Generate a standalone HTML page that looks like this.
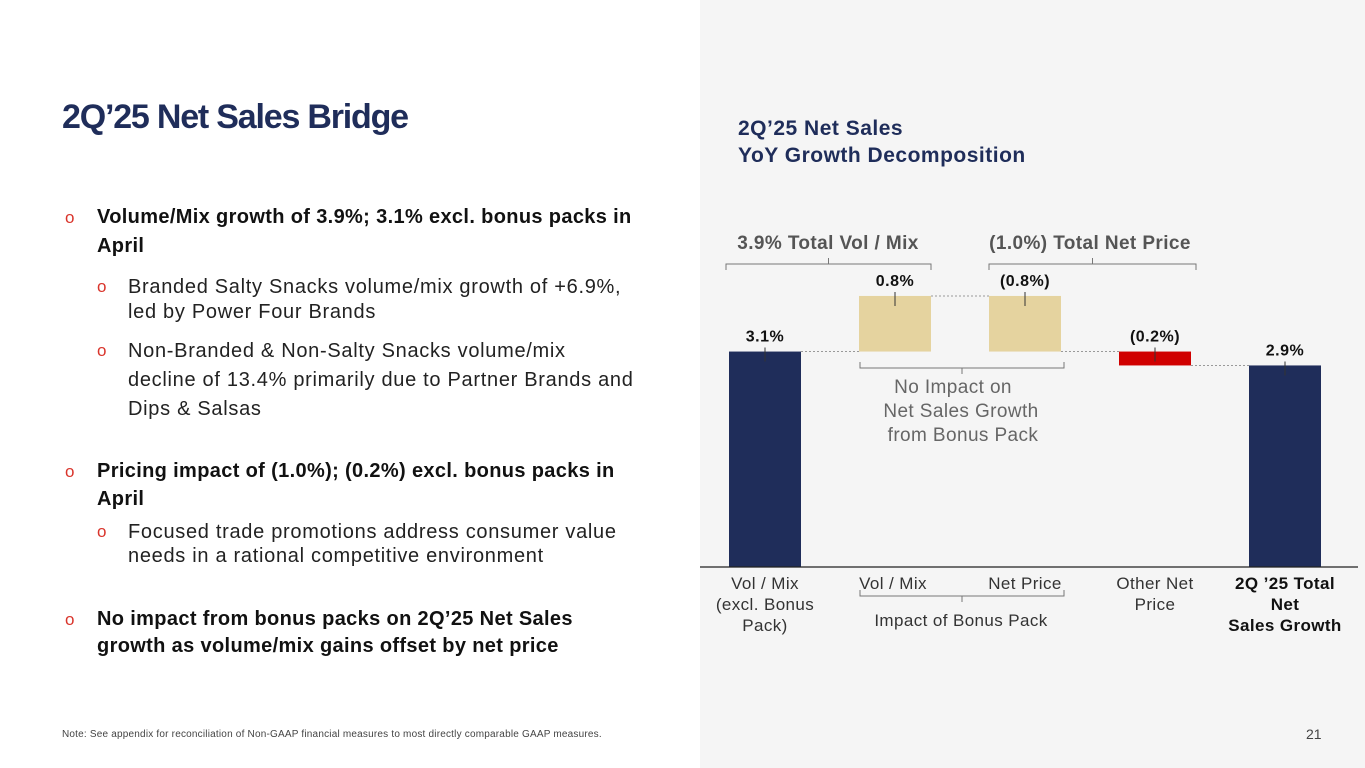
<!DOCTYPE html>
<html><head><meta charset="utf-8"><style>
body{margin:0;width:1365px;height:768px;position:relative;background:#fff;font-family:"Liberation Sans",sans-serif;overflow:hidden}
.l{position:absolute;white-space:nowrap;font-size:20px;color:#222;line-height:24px;letter-spacing:0.7px}
.b{font-weight:bold;color:#111;letter-spacing:0.35px}
.o{position:absolute;color:#d9342b;font-size:17px;line-height:24px}
</style></head><body>
<div style="position:absolute;left:700px;top:0;width:665px;height:768px;background:#f5f5f5"></div>
<div style="position:absolute;left:62px;top:98px;font-size:34px;font-weight:bold;color:#1f2d5a;letter-spacing:-1.2px">2Q’25 Net Sales Bridge</div>

<div class="o" style="left:65px;top:206px">o</div>
<div class="l b" style="left:97px;top:205px">Volume/Mix growth of 3.9%; 3.1% excl. bonus packs in</div>
<div class="l b" style="left:97px;top:234px">April</div>
<div class="o" style="left:97px;top:275px">o</div>
<div class="l" style="left:128px;top:275px">Branded Salty Snacks volume/mix growth of +6.9%,</div>
<div class="l" style="left:128px;top:300px">led by Power Four Brands</div>
<div class="o" style="left:97px;top:339px">o</div>
<div class="l" style="left:128px;top:339px">Non-Branded &amp; Non-Salty Snacks volume/mix</div>
<div class="l" style="left:128px;top:368px">decline of 13.4% primarily due to Partner Brands and</div>
<div class="l" style="left:128px;top:397px">Dips &amp; Salsas</div>
<div class="o" style="left:65px;top:460px">o</div>
<div class="l b" style="left:97px;top:459px">Pricing impact of (1.0%); (0.2%) excl. bonus packs in</div>
<div class="l b" style="left:97px;top:487px">April</div>
<div class="o" style="left:97px;top:520px">o</div>
<div class="l" style="left:128px;top:520px">Focused trade promotions address consumer value</div>
<div class="l" style="left:128px;top:544px">needs in a rational competitive environment</div>
<div class="o" style="left:65px;top:608px">o</div>
<div class="l b" style="left:97px;top:607px">No impact from bonus packs on 2Q’25 Net Sales</div>
<div class="l b" style="left:97px;top:634px">growth as volume/mix gains offset by net price</div>
<div style="position:absolute;left:62px;top:729px;font-size:10px;color:#444;letter-spacing:0.2px">Note: See appendix for reconciliation of Non-GAAP financial measures to most directly comparable GAAP measures.</div>
<div style="position:absolute;left:1306px;top:726px;font-size:14px;color:#444">21</div>

<div style="position:absolute;left:738px;top:115px;font-size:21px;font-weight:bold;color:#1f2d5a;line-height:27px;letter-spacing:0.5px">2Q’25 Net Sales<br>YoY Growth Decomposition</div>

<svg id="chart" style="position:absolute;left:0;top:0" width="1365" height="768"></svg>
<script>
const categories=["Vol / Mix (excl. Bonus Pack)","Vol / Mix","Net Price","Other Net Price","2Q ’25 Total Net Sales Growth"];
const values=[3.1,0.8,-0.8,-0.2,2.9];
const labels=["3.1%","0.8%","(0.8%)","(0.2%)","2.9%"];
const kinds=["total","delta","delta","delta","total"];
const colors={total:"#1f2d5a",bonus:"#e5d39f",neg:"#d00000"};
const svg=document.getElementById('chart');const NS="http://www.w3.org/2000/svg";
const base=567,scale=69.5;const y=v=>base-v*scale;const x0=729,step=130,bw=72;const xb=i=>x0+i*step;
function mk(t,a,p){const e=document.createElementNS(NS,t);for(const k in a)e.setAttribute(k,a[k]);(p||svg).appendChild(e);return e;}
let run=0;
values.forEach((v,i)=>{let lo,hi,fill;
 if(kinds[i]=="total"){lo=0;hi=v;run=v;fill=colors.total;}
 else{const s=run;run+=v;lo=Math.min(s,run);hi=Math.max(s,run);fill=(i==1||i==2)?colors.bonus:colors.neg;}
 const r=mk('rect',{x:xb(i),y:y(hi),width:bw,height:y(lo)-y(hi),fill:fill});
 
 
 const t=mk('text',{x:xb(i)+bw/2,y:y(hi)-10,'text-anchor':'middle','font-size':16,'font-weight':'bold',fill:'#111','letter-spacing':0.5});t.textContent=labels[i];
 
 
 mk('line',{x1:xb(i)+bw/2,x2:xb(i)+bw/2,y1:y(hi)-4,y2:y(hi)+10,stroke:'#333','stroke-width':1});
});
let r2=0;values.forEach((v,i)=>{r2=kinds[i]=="total"?v:r2+v;if(i<values.length-1)mk('line',{x1:xb(i)+bw,x2:xb(i+1),y1:y(r2),y2:y(r2),stroke:'#999','stroke-dasharray':'2,2','stroke-width':1});});
mk('line',{x1:700,x2:1358,y1:base,y2:base,stroke:'#222','stroke-width':1.2});
function brace(x1,x2,yy,up){const d=up?-6:6;mk('path',{d:`M${x1},${yy+d} L${x1},${yy} L${x2},${yy} L${x2},${yy+d} M${(x1+x2)/2},${yy} L${(x1+x2)/2},${yy-d}`,fill:'none',stroke:'#777','stroke-width':1});}
function txt(s,x,yy,o){const t=mk('text',Object.assign({x:x,y:yy,'text-anchor':'middle','font-size':17,fill:'#333','letter-spacing':0.4},o||{}));t.textContent=s;return t;}
brace(726,931,264,false);brace(989,1196,264,false);
txt("3.9% Total Vol / Mix",828,249,{'font-size':19,'font-weight':'bold',fill:'#555'});
txt("(1.0%) Total Net Price",1090,249,{'font-size':19,'font-weight':'bold',fill:'#555'});
brace(860,1064,368,true);
txt("No Impact on",953,393,{'font-size':19,fill:'#666'});txt("Net Sales Growth",961,417,{'font-size':19,fill:'#666'});txt("from Bonus Pack",963,441,{'font-size':19,fill:'#666'});
txt("Vol / Mix",765,589);txt("(excl. Bonus",765,610);txt("Pack)",765,631);
txt("Vol / Mix",893,589);txt("Net Price",1025,589);
brace(860,1064,596,true);txt("Impact of Bonus Pack",961,626);
txt("Other Net",1155,589);txt("Price",1155,610);
txt("2Q ’25 Total",1285,589,{'font-weight':'bold',fill:'#111'});txt("Net",1285,610,{'font-weight':'bold',fill:'#111'});txt("Sales Growth",1285,631,{'font-weight':'bold',fill:'#111'});
</script>
</body></html>
